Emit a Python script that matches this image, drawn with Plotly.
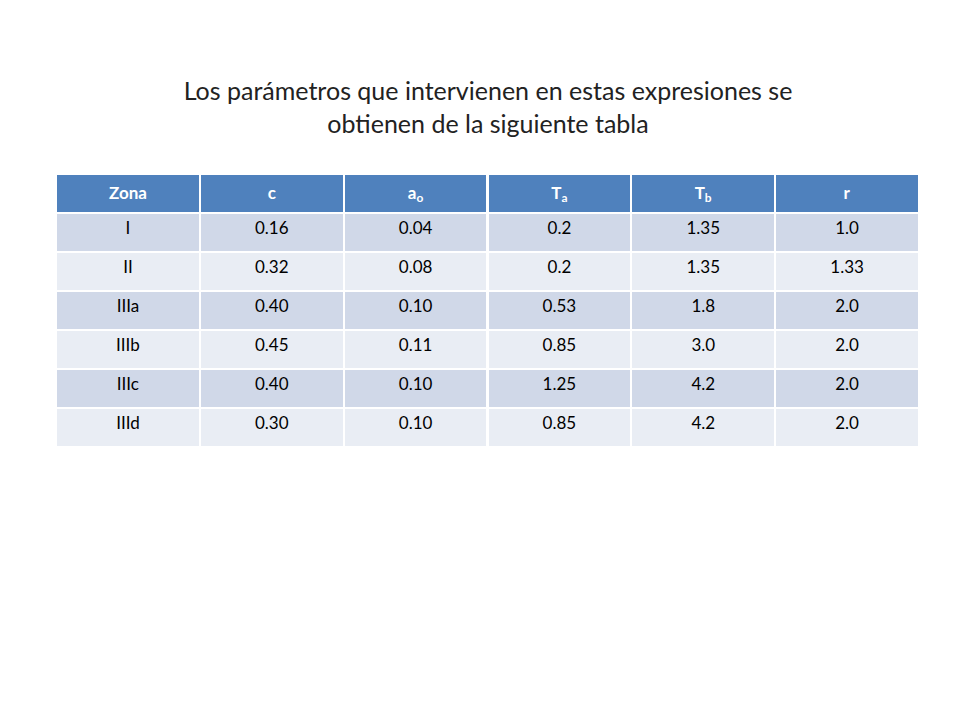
import plotly.graph_objects as go

# table data
headers = ["Zona", "c", "a<sub>o</sub>", "T<sub>a</sub>", "T<sub>b</sub>", "r"]
zona = ["I", "II", "IIIa", "IIIb", "IIIc", "IIId"]
c = ["0.16", "0.32", "0.40", "0.45", "0.40", "0.30"]
a0 = ["0.04", "0.08", "0.10", "0.11", "0.10", "0.10"]
ta = ["0.2", "0.2", "0.53", "0.85", "1.25", "0.85"]
tb = ["1.35", "1.35", "1.8", "3.0", "4.2", "4.2"]
r = ["1.0", "1.33", "2.0", "2.0", "2.0", "2.0"]

row_colors = ["#D0D8E8" if i % 2 == 0 else "#E9EDF4" for i in range(len(zona))]

fig = go.Figure(go.Table(
    domain=dict(x=[0.05, 0.95], y=[0.38, 0.77]),
    header=dict(values=["<b>%s</b>" % h for h in headers],
                fill_color="#4F81BD", line=dict(color="white", width=2),
                font=dict(family="Lato", size=17, color="white"),
                align="center", height=38),
    cells=dict(values=[zona, c, a0, ta, tb, r],
               fill_color=[row_colors] * 6, line=dict(color="white", width=2),
               font=dict(family="Lato", size=17, color="black"),
               align="center", height=39),
))

fig.update_layout(
    width=960, height=720, margin=dict(l=0, r=0, t=0, b=0),
    paper_bgcolor="white",
    title=dict(
        text="Los parámetros que intervienen en estas expresiones se<br>obtienen de la siguiente tabla",
        x=0.5, xanchor="center", y=1 - 92 / 720, yanchor="middle", yref="container",
        font=dict(family="Lato", size=25, color="#222222")),
)

fig.write_html("out.html")
